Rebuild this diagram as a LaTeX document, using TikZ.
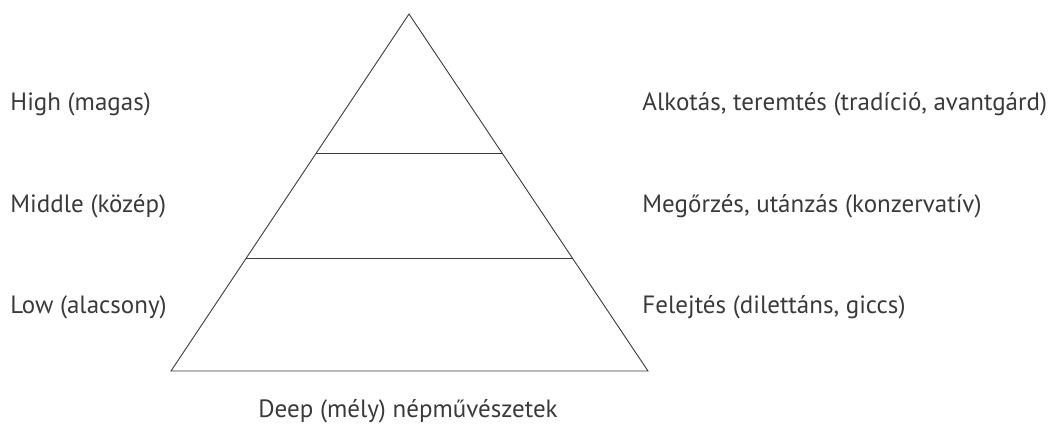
\documentclass[tikz,border=0pt]{standalone}
\usepackage{fontspec}
\setmainfont{PT Sans}
\usetikzlibrary{calc}
\definecolor{ink}{HTML}{3A3A3A}
\begin{document}
\begin{tikzpicture}[x=1pt, y=-1pt, color=ink, line width=0.9pt,
		lbl/.style={anchor=base west, inner sep=0pt, font=\fontsize{25}{29}\selectfont}]
	\useasboundingbox (0,0) rectangle (1051,424);

	\coordinate (apex) at (409,14);
	\coordinate (bl) at (171,371);
	\coordinate (br) at (648,371);
	\coordinate (h1l) at ($(apex)!0.391!(bl)$);
	\coordinate (h1r) at ($(apex)!0.391!(br)$);
	\coordinate (h2l) at ($(apex)!0.686!(bl)$);
	\coordinate (h2r) at ($(apex)!0.686!(br)$);

	\draw (apex) -- (bl) -- (br) -- cycle;
	\draw (h1l) -- (h1r);
	\draw (h2l) -- (h2r);

	\node[lbl] (high) at (10,110.7) {High (magas)};
	\node[lbl] (middle) at (10,212.3) {Middle (közép)};
	\node[lbl] (low) at (10,313.3) {Low (alacsony)};

	\node[lbl] (create) at (642,110.7) {Alkotás, teremtés (tradíció, avantgárd)};
	\node[lbl] (keep) at (642,212.3) {Megőrzés, utánzás (konzervatív)};
	\node[lbl] (forget) at (642,313.3) {Felejtés (dilettáns, giccs)};

	\node[lbl, anchor=base] (deep) at (408,417.5) {Deep (mély) népművészetek};
\end{tikzpicture}
\end{document}
